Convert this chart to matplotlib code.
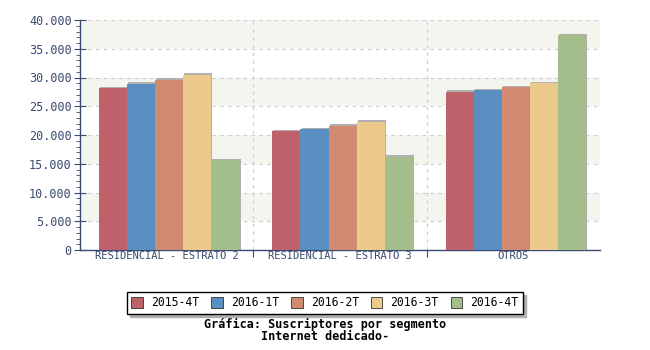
import matplotlib.pyplot as plt
import numpy as np
from matplotlib.ticker import FuncFormatter, MultipleLocator

categories = ['RESIDENCIAL - ESTRATO 2', 'RESIDENCIAL - ESTRATO 3', 'OTROS']
periods = ['2015-4T', '2016-1T', '2016-2T', '2016-3T', '2016-4T']
values = {
    '2015-4T': [28150, 20700, 27500],
    '2016-1T': [28900, 21000, 27800],
    '2016-2T': [29600, 21600, 28350],
    '2016-3T': [30450, 22300, 29050],
    '2016-4T': [15650, 16200, 37400],
}
colors = ['#bf616b', '#5a8fc1', '#d08a6f', '#ebca8b', '#a3be8b']

axis_col = '#3a4a70'
plt.rcParams['font.family'] = ['DejaVu Sans Mono']

fig = plt.figure(figsize=(6.5, 3.5), dpi=100)
ax = fig.add_axes([80 / 650, 1 - 250 / 350, 520 / 650, 230 / 350])

# alternating background bands
for lo in range(0, 40000, 5000):
    if (lo // 5000) % 2 == 1:
        ax.axhspan(lo, lo + 5000, color='#f5f5f0', zorder=0, lw=0)

x = np.arange(len(categories))
w = 0.162
offsets = (np.arange(len(periods)) - 2) * w + 0.015
for i, p in enumerate(periods):
    # little shadow behind the bars
    ax.bar(x + offsets[i] + 0.006, np.array(values[p]) + 250, w, color='#b0b0b0',
           zorder=2, lw=0)
    ax.bar(x + offsets[i], values[p], w, color=colors[i], label=p, zorder=3, lw=0)

ax.set_xlim(-0.5, 2.5)
ax.set_ylim(0, 40000)

ax.yaxis.set_major_locator(MultipleLocator(5000))
ax.yaxis.set_minor_locator(MultipleLocator(1000))
ax.yaxis.set_major_formatter(FuncFormatter(lambda v, _: f'{int(v):,}'.replace(',', '.')))
ax.tick_params(axis='y', which='major', direction='inout', length=8, color=axis_col,
               labelcolor=axis_col, labelsize=8.5, pad=2)
ax.tick_params(axis='y', which='minor', direction='out', length=3, color=axis_col)

ax.set_xticks([0.5, 1.5], minor=False)
ax.set_xticklabels([])
ax.set_xticks(x, minor=True)
ax.set_xticklabels(categories, minor=True)
ax.tick_params(axis='x', which='major', direction='out', length=5, color=axis_col)
ax.tick_params(axis='x', which='minor', length=0, labelcolor=axis_col, labelsize=7.5, pad=1)

ax.grid(axis='y', which='major', color='#cccccc', ls=(0, (3, 4)), lw=0.8, zorder=1)
for gx in [0.5, 1.5, 2.5]:
    ax.axvline(gx, color='#cccccc', ls=(0, (3, 4)), lw=0.8, zorder=1)

for s in ['top', 'right']:
    ax.spines[s].set_visible(False)
for s in ['left', 'bottom']:
    ax.spines[s].set_color(axis_col)
    ax.spines[s].set_linewidth(1.0)

leg = fig.legend(loc='center', bbox_to_anchor=(325 / 650, 1 - 303 / 350), ncol=5,
                 fontsize=8.3, frameon=True, fancybox=False, shadow={'color': '#b0b0b0', 'alpha': 1},
                 handlelength=1.0, handleheight=1.0, columnspacing=1.05, handletextpad=0.7,
                 borderpad=0.4, borderaxespad=0)
leg.get_frame().set_edgecolor('black')
leg.get_frame().set_linewidth(1.0)
for h in leg.legend_handles:
    h.set_edgecolor('#333333')
    h.set_linewidth(0.6)

fig.text(325 / 650, 1 - 324 / 350, 'Gráfica: Suscriptores por segmento', ha='center',
         va='center', fontsize=8.5, fontweight='bold')
fig.text(325 / 650, 1 - 337 / 350, 'Internet dedicado-', ha='center', va='center',
         fontsize=8.5, fontweight='bold')

fig.savefig('out.png', dpi=100)
